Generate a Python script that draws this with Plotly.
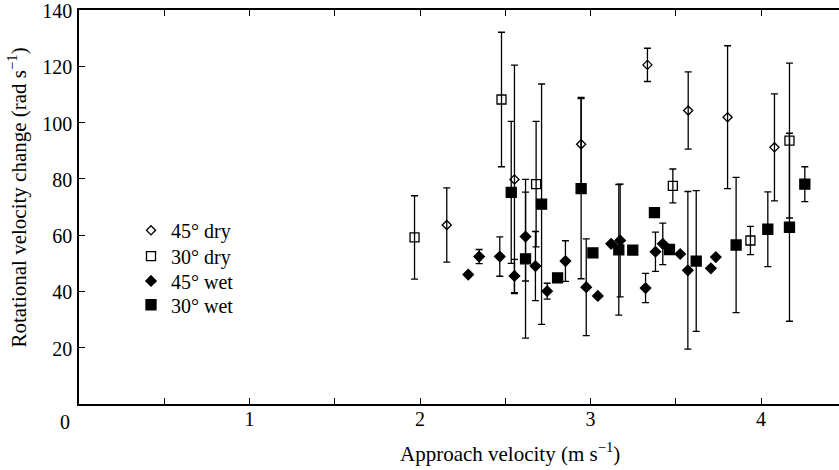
import plotly.graph_objects as go

# ---- data ----
dry45_x = [2.157, 2.554, 2.945, 3.334, 3.573, 3.804, 4.079]
dry45_y = [63.6, 79.8, 92.3, 120.5, 104.3, 101.9, 91.2]
dry45_e = [13.2, 40.6, 16.6, 5.9, 13.7, 25.4, 19.0]

dry30_x = [1.968, 2.478, 2.681, 3.483, 3.938, 4.167]
dry30_y = [59.2, 108.2, 78.1, 77.5, 58.1, 93.6]
dry30_e = [14.8, 23.9, 22.3, 6.0, 5.0, 27.5]

wet45_x = [2.283, 2.347, 2.468, 2.554, 2.619, 2.677, 2.746, 2.853, 2.975, 3.043,
           3.121, 3.174, 3.323, 3.381, 3.424, 3.526, 3.571, 3.706, 3.735]
wet45_y = [46.0, 52.4, 52.4, 45.5, 59.5, 49.0, 40.1, 50.8, 41.5, 38.4,
           56.9, 58.1, 41.2, 54.1, 56.9, 53.3, 47.5, 48.2, 52.2]
wet45_e = [0, 2.5, 7.0, 5.9, 15.8, 12.3, 2.8, 7.2, 17.2, 0,
           0, 20.0, 5.2, 7.0, 7.4, 0, 28.0, 0, 0]

wet30_x = [2.535, 2.619, 2.713, 2.807, 2.945, 3.014, 3.166, 3.248, 3.375, 3.463,
           3.620, 3.854, 4.040, 4.167, 4.257]
wet30_y = [75.2, 51.6, 71.0, 44.8, 76.5, 53.7, 54.8, 54.7, 68.0, 54.9,
           50.8, 56.5, 62.1, 62.8, 78.1]
wet30_e = [25.2, 28.2, 42.7, 0, 32.0, 0, 23.2, 0, 0, 0,
           25.0, 24.0, 13.3, 33.4, 6.2]

series_names = ["45° dry", "30° dry", "45° wet", "30° wet"]

x_tickvals = [0.5, 1, 1.5, 2, 2.5, 3, 3.5, 4]
x_ticktext = ["", "1", "", "2", "", "3", "", "4"]
y_tickvals = [20, 40, 60, 80, 100, 120, 140]

FONT = "Liberation Serif"

fig = go.Figure()

def add(name, xs, ys, es, symbol, size, legend):
    fig.add_trace(go.Scatter(
        x=xs, y=ys, mode="markers", name=name, legend=legend,
        marker=dict(symbol=symbol, size=size, color="black",
                    line=dict(color="black", width=1.3)),
        error_y=dict(type="data", array=es, symmetric=True, color="black",
                     thickness=1.3, width=3.5),
    ))

add(series_names[0], dry45_x, dry45_y, dry45_e, "diamond-open", 7, "legend")
add(series_names[1], dry30_x, dry30_y, dry30_e, "square-open", 9, "legend2")
add(series_names[2], wet45_x, wet45_y, wet45_e, "diamond", 8, "legend3")
add(series_names[3], wet30_x, wet30_y, wet30_e, "square", 10, "legend4")

L, T, W, H = 79, 7, 760, 397

def leg(row_y):
    return dict(x=(131 - L) / W, y=(404 - row_y) / H, xanchor="left", yanchor="middle",
                bgcolor="rgba(0,0,0,0)", borderwidth=0,
                font=dict(family=FONT, size=20, color="black"),
                itemclick=False, itemdoubleclick=False)

fig.update_layout(
    width=839, height=470,
    margin=dict(l=L, r=839 - L - W, t=T, b=470 - T - H, pad=0),
    paper_bgcolor="white", plot_bgcolor="white",
    font=dict(family=FONT, size=20, color="black"),
    showlegend=True,
    legend=leg(229), legend2=leg(255), legend3=leg(280), legend4=leg(304),
    xaxis=dict(range=[0, W / 170.5], showgrid=False, zeroline=False,
               showline=True, linecolor="black", linewidth=1.5, mirror="ticks",
               ticks="inside", ticklen=6, tickwidth=1.3, tickcolor="black",
               tickmode="array", tickvals=x_tickvals, ticktext=x_ticktext,
               tickfont=dict(family=FONT, size=20), ticklabelstandoff=-4,
               ticklabeloverflow="allow"),
    yaxis=dict(range=[0, 140], showgrid=False, zeroline=False,
               showline=True, linecolor="black", linewidth=1.5, mirror=False,
               ticks="inside", ticklen=6, tickwidth=1.3, tickcolor="black",
               tickmode="array", tickvals=y_tickvals,
               tickfont=dict(family=FONT, size=20), ticklabelstandoff=1,
               ticklabelshift=1, ticklabeloverflow="allow"),
    annotations=[
        dict(text="Approach velocity (m s<sup>−1</sup>)", xref="paper", yref="paper",
             x=(510 - L) / W, y=(404 - 453) / H, xanchor="center", yanchor="middle",
             showarrow=False, font=dict(family=FONT, size=21)),
        dict(text="Rotational velocity change (rad s<sup>−1</sup>)", xref="paper", yref="paper",
             x=(18 - L) / W, y=(404 - 196) / H, xanchor="center", yanchor="middle",
             textangle=-90, showarrow=False, font=dict(family=FONT, size=21)),
        dict(text="0", xref="paper", yref="paper",
             x=(65 - L) / W, y=(404 - 422) / H, xanchor="center", yanchor="middle",
             showarrow=False, font=dict(family=FONT, size=20)),
    ],
)

fig.write_html("out.html", config={"displayModeBar": False},
               post_script="document.body.style.margin='0';document.body.style.overflow='hidden';")
